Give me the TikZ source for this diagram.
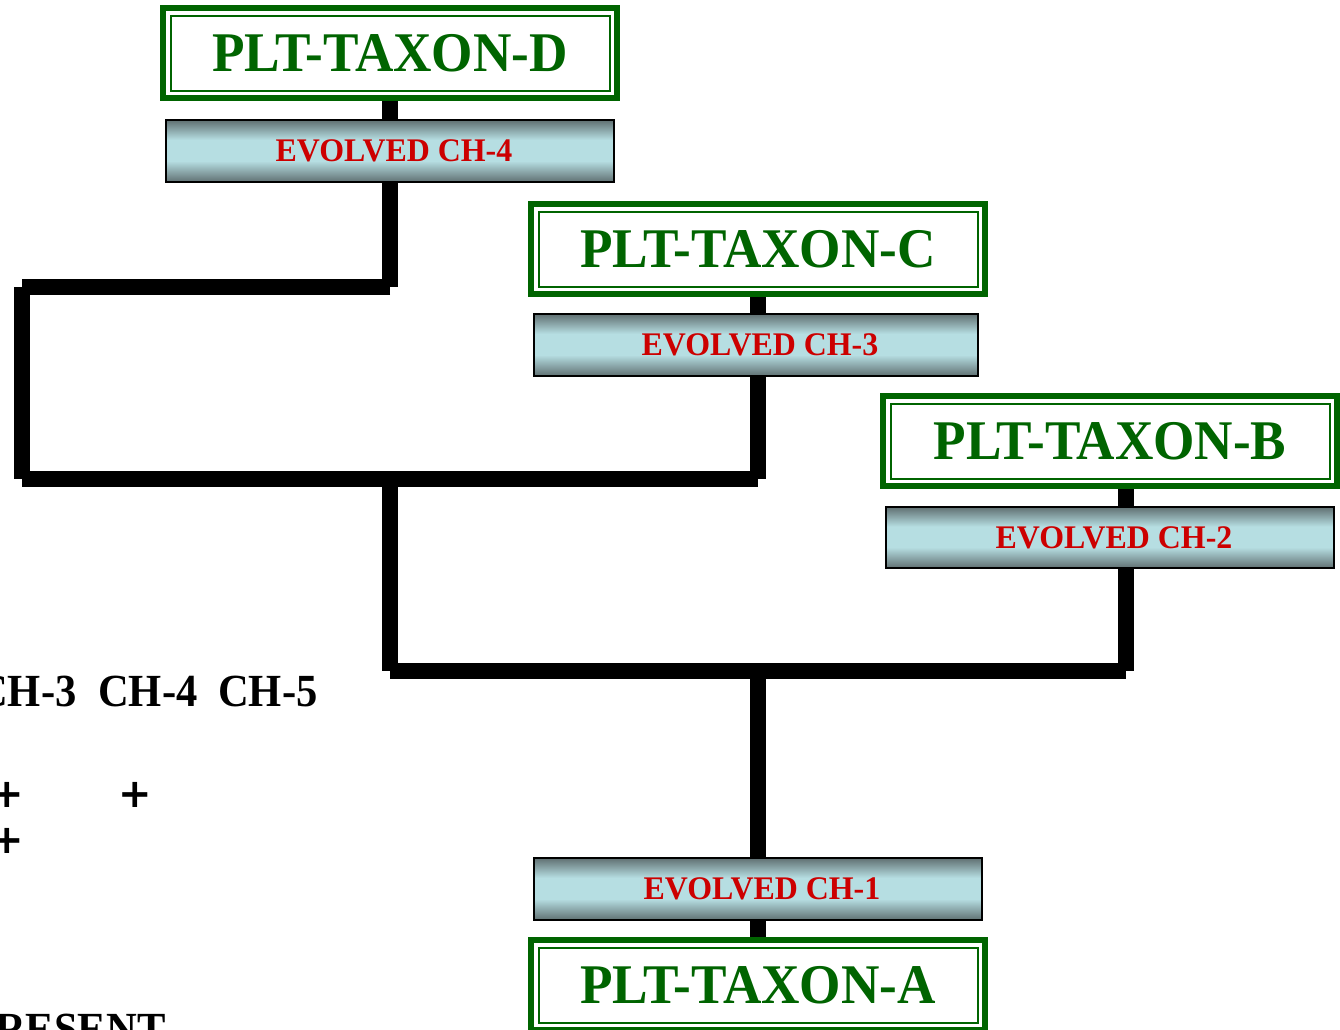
\documentclass[tikz,border=0pt]{standalone}
\usepackage{fontspec}
\setmainfont{Liberation Serif}
\newfontfamily\taxfont{Liberation Serif}[FakeStretch=0.95]
\newfontfamily\evfont{Liberation Serif}[FakeStretch=0.967]
\newfontfamily\lblfont{Liberation Serif}[FakeStretch=0.925]
\newfontfamily\plusfont{DejaVu Sans}
\usetikzlibrary{backgrounds}
\definecolor{tgreen}{RGB}{0,100,0}
\definecolor{ered}{RGB}{204,0,0}
\definecolor{evdark}{RGB}{96,112,114}
\definecolor{evlight}{RGB}{182,222,226}
\pgfdeclareverticalshading{evshade}{100bp}{color(0bp)=(evdark); color(25bp)=(evdark); color(42bp)=(evlight); color(59bp)=(evlight); color(75bp)=(evdark); color(100bp)=(evdark)}
\tikzset{
 taxon/.style={draw=tgreen, line width=6pt, fill=white, minimum width=454pt, minimum height=90pt,
   inner sep=0pt, outer sep=0pt, text=tgreen, font=\taxfont\fontsize{56}{60}\selectfont\bfseries,
   path picture={\draw[tgreen,line width=2pt] ([shift={(7.5pt,-7.5pt)}]path picture bounding box.north west) rectangle ([shift={(-7.5pt,7.5pt)}]path picture bounding box.south east);}},
 evolved/.style={draw=black, line width=2pt, shade, shading=evshade, minimum width=448pt, minimum height=62pt,
   inner sep=0pt, outer sep=0pt, text=ered, font=\evfont\fontsize{33}{36}\selectfont\bfseries,
   execute at begin node={\hspace*{8pt}}},
 branch/.style={line width=16pt, line cap=butt, draw=black},
 lbl/.style={font=\lblfont\fontsize{46}{50}\selectfont\bfseries, inner sep=0pt, anchor=base west},
 plus/.style={font=\plusfont\fontsize{40}{44}\selectfont\bfseries, inner sep=0pt, anchor=center}
}
\begin{document}
\begin{tikzpicture}[x=1pt,y=-1pt]
\useasboundingbox (0,0) rectangle (1340,1029);
\node[taxon] (tD) at (390,53) {PLT-TAXON-D};
\node[evolved] (eD) at (390,151) {EVOLVED CH-4};
\node[taxon] (tC) at (758,249) {PLT-TAXON-C};
\node[evolved, minimum width=444pt] (eC) at (756,345) {EVOLVED CH-3};
\node[taxon] (tB) at (1110,441) {PLT-TAXON-B};
\node[evolved, minimum height=61pt] (eB) at (1110,537.5) {EVOLVED CH-2};
\node[evolved] (eA) at (758,889) {EVOLVED CH-1};
\node[taxon] (tA) at (758,985) {PLT-TAXON-A};
\coordinate (jD) at (390,287);
\coordinate (jL1) at (22,287);
\coordinate (jL2) at (22,479);
\coordinate (jDC) at (390,479);
\coordinate (jC) at (758,479);
\coordinate (jDCB) at (390,671);
\coordinate (jM) at (758,671);
\coordinate (jB) at (1126,671);
\begin{scope}[on background layer]
\draw[branch] (tD.south) -- (eD.north);
\draw[branch] (eD.south) -- (jD);
\draw[branch] (jD) -- (jL1);
\draw[branch] (jL1) -- (jL2);
\draw[branch] (jL2) -- (jDC);
\draw[branch] (jDC) -- (jC);
\draw[branch] (tC.south) -- (tC.south |- eC.north);
\draw[branch] (eC.south -| jC) -- (jC);
\draw[branch] (jDC) -- (jDCB);
\draw[branch] (jDCB) -- (jM);
\draw[branch] (jM) -- (jB);
\draw[branch] (tB.south -| jB) -- (eB.north -| jB);
\draw[branch] (eB.south -| jB) -- (jB);
\draw[branch] (jM) -- (eA.north);
\draw[branch] (eA.south) -- (tA.north);
\end{scope}
\node[lbl] (ch3) at (-23,706.5) {CH-3};
\node[lbl] (ch4) at (98,706.5) {CH-4};
\node[lbl] (ch5) at (218,706.5) {CH-5};
\node[plus] (p1) at (7,795) {+};
\node[plus] (p2) at (135.5,795) {+};
\node[plus] (p3) at (7,841) {+};
\node[lbl] (pres) at (-31,1044.5) {PRESENT};
\end{tikzpicture}
\end{document}
